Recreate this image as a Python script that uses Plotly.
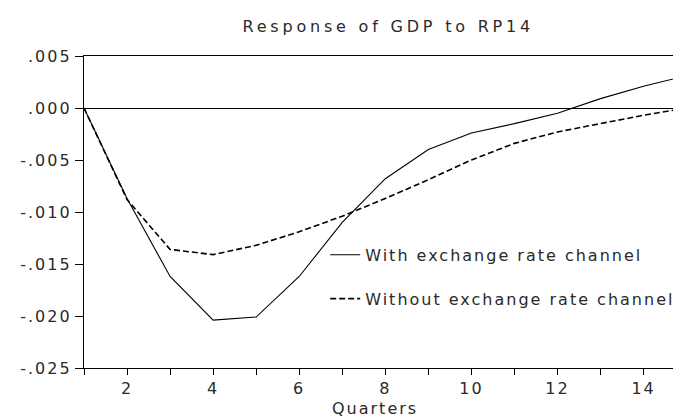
import plotly.graph_objects as go

quarters = list(range(1, 16))
with_channel = [0.0, -0.0087, -0.0162, -0.0204, -0.0201, -0.0162, -0.0110, -0.0068,
                -0.0040, -0.0024, -0.0015, -0.0005, 0.0009, 0.0021, 0.0031]
without_channel = [0.0, -0.0088, -0.0136, -0.0141, -0.0132, -0.0119, -0.0104, -0.0087,
                   -0.0069, -0.0050, -0.0034, -0.0023, -0.0015, -0.0007, 0.0000]

ytick_vals = [0.005, 0.0, -0.005, -0.010, -0.015, -0.020, -0.025]
ytick_text = [".005", ".000", "-.005", "-.010", "-.015", "-.020", "-.025"]
xtick_vals = list(range(1, 16))
xtick_text = [str(v) if v % 2 == 0 else "" for v in xtick_vals]

FONT = "DejaVu Sans"
TXT = "#2a2a2a"


def sp(text, px):
    return f'<span style="letter-spacing:{px}px">{text}</span>' if text else ""


fig = go.Figure()
fig.add_trace(go.Scatter(x=quarters, y=with_channel, mode="lines",
                         name=sp("With exchange rate channel", 2.0), legendgroup="a",
                         line=dict(color="black", width=1.1)))
fig.add_trace(go.Scatter(x=quarters, y=without_channel, mode="lines",
                         name=sp("Without exchange rate channel", 2.0), legendgroup="b",
                         line=dict(color="black", width=1.6, dash="6px,3px")))

fig.update_layout(
    width=673, height=409,
    margin=dict(l=76, r=0, t=48, b=49, autoexpand=False),
    paper_bgcolor="white", plot_bgcolor="white",
    font=dict(family=FONT, size=16, color=TXT),
    title=dict(text=sp("Response of GDP to RP14", 3.8), x=0.565, xanchor="center",
               y=0.956, yanchor="middle", font=dict(family=FONT, size=16, color=TXT)),
    showlegend=True,
    legend=dict(x=0.404, y=0.417, xanchor="left", yanchor="top",
                bgcolor="rgba(0,0,0,0)", borderwidth=0,
                font=dict(family=FONT, size=16, color=TXT),
                itemwidth=30, tracegroupgap=20, traceorder="grouped"),
    xaxis=dict(range=[1, 14.87], tickvals=xtick_vals,
               ticktext=[sp(t, 2) for t in xtick_text],
               ticks="outside", ticklen=6, tickwidth=1.3, tickcolor="black",
               showline=True, linecolor="black", linewidth=1.3, mirror=True,
               showgrid=False, zeroline=False,
               tickfont=dict(family=FONT, size=16, color=TXT)),
    yaxis=dict(range=[-0.025, 0.005], tickvals=ytick_vals,
               ticktext=[sp(t, 2) for t in ytick_text],
               ticks="outside", ticklen=8, tickwidth=1.3, tickcolor="black",
               showline=True, linecolor="black", linewidth=1.3, mirror=False,
               showgrid=False, zeroline=True, zerolinecolor="black", zerolinewidth=1.2,
               tickfont=dict(family=FONT, size=16, color=TXT)),
    annotations=[dict(text=sp("Quarters", 2), xref="paper", yref="paper",
                      x=0.487, y=-0.13, xanchor="center", yanchor="middle",
                      showarrow=False, font=dict(family=FONT, size=16, color=TXT))],
)

fig.write_html("out.html")
